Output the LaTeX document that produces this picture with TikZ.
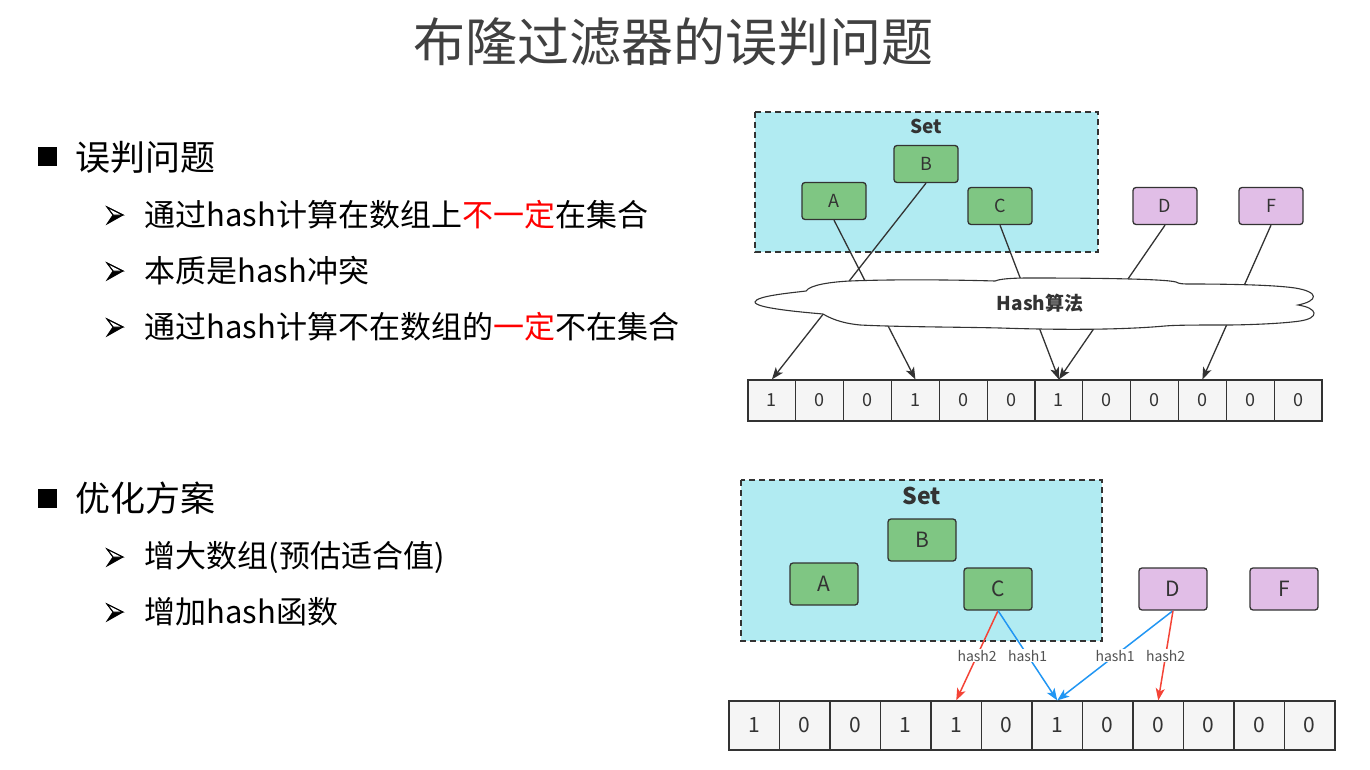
\documentclass[tikz,border=0pt]{standalone}
\usepackage{fontspec}
\setmainfont{Noto Sans CJK SC}
\usetikzlibrary{arrows.meta}
\definecolor{setfill}{HTML}{B1EBF2}
\definecolor{grn}{HTML}{7FC683}
\definecolor{pur}{HTML}{E1BEE7}
\definecolor{dk}{HTML}{333333}
\definecolor{cellfill}{HTML}{F5F5F5}
\definecolor{redarr}{HTML}{F44336}
\definecolor{bluearr}{HTML}{2196F3}
\definecolor{titlec}{HTML}{404040}
\tikzset{
  setbox/.style={draw=dk, line width=1.3pt, fill=setfill, dash pattern=on 6pt off 4pt},
  gbox/.style={draw=dk, line width=1.3pt, rounded corners=3pt, fill=grn, text=dk, inner sep=0pt},
  pbox/.style={draw=dk, line width=1.3pt, rounded corners=3pt, fill=pur, text=dk, inner sep=0pt},
  topbox/.style={minimum width=64pt, minimum height=37pt, font=\fontsize{18}{20}\selectfont},
  botbox/.style={minimum width=68pt, minimum height=42pt, font=\fontsize{21}{24}\selectfont},
  cellt/.style={draw=dk, line width=1.2pt, fill=cellfill, text=dk, minimum width=47.83pt, minimum height=41pt, inner sep=0pt, font=\fontsize{18}{20}\selectfont},
  cellb/.style={draw=dk, line width=1.2pt, fill=cellfill, text=dk, minimum width=50.5pt, minimum height=49pt, inner sep=0pt, font=\fontsize{21}{24}\selectfont},
  darr/.style={draw=dk, line width=1.3pt, -{Stealth[length=12pt,width=9pt,inset=3pt]}},
  rarr/.style={draw=redarr, line width=1.5pt, -{Stealth[length=12pt,width=9pt,inset=3pt]}},
  barr/.style={draw=bluearr, line width=1.5pt, -{Stealth[length=12pt,width=9pt,inset=3pt]}},
  lbl/.style={fill=white, inner sep=1pt, text=dk!85, font=\fontsize{14}{16}\selectfont},
  head/.style={anchor=west, font=\fontsize{35}{40}\selectfont},
  item/.style={anchor=west, font=\fontsize{31}{36}\selectfont},
  sq/.style={fill=black, minimum size=19pt, inner sep=0pt},
  cloudst/.style={draw=dk, line width=1.1pt, fill=white},
  pic arrowbullet/.style={},
}
\newcommand{\arrbullet}[2]{%
  \begin{scope}[shift={(#1,#2)}]
    \fill[black] (-8,9) -- (8,0) -- (-2,0) -- cycle;
    \draw[black, line width=0.9pt, line join=miter, fill=white] (-8,-8) -- (8,0) -- (-2,0) -- cycle;
    \draw[black, line width=0.9pt, line join=miter] (-8,-8) -- (8,0) -- (-8,9) -- (-2,0) -- cycle;
  \end{scope}}
\begin{document}
\begin{tikzpicture}[x=1pt,y=-1pt]
\useasboundingbox (0,0) rectangle (1370,770);
% title
\node[text=titlec, font=\fontsize{52}{58}\selectfont] (title) at (673,42) {布隆过滤器的误判问题};
% left text
\node[sq] (s1) at (47,157) {};
\node[head] (h1) at (72,157) {误判问题};
\arrbullet{115}{215}
\node[item] (i1) at (141,215) {通过hash计算在数组上\textcolor{red}{不一定}在集合};
\arrbullet{115}{271}
\node[item] (i2) at (141,271) {本质是hash冲突};
\arrbullet{115}{327}
\node[item] (i3) at (141,327) {通过hash计算不在数组的\textcolor{red}{一定}不在集合};
\node[sq] (s2) at (47,498) {};
\node[head] (h2) at (72,498) {优化方案};
\arrbullet{115}{557}
\node[item] (i4) at (141,557) {增大数组(预估适合值)};
\arrbullet{115}{612}
\node[item] (i5) at (141,612) {增加hash函数};

% ---------- top diagram ----------
\draw[setbox] (755,112) rectangle (1098,252);
\node[text=dk, font=\bfseries\fontsize{19}{22}\selectfont] (set1) at (926,126) {Set};
\node[gbox,topbox] (tB) at (926,164) {B};
\node[gbox,topbox] (tA) at (834,201) {A};
\node[gbox,topbox] (tC) at (1000,206) {C};
\node[pbox,topbox] (tD) at (1165,206) {D};
\node[pbox,topbox] (tF) at (1271,206) {F};
\foreach \v [count=\i] in {1,0,0,1,0,0,1,0,0,0,0,0}
  \node[cellt] (t\i) at ({748+47.83*(\i-0.5)},400.5) {\v};
\draw[darr] (tA.south) -- (t4.north);
\draw[darr] (tB.south) -- (t1.north);
\draw[darr] (tC.south) -- (t7.north);
\draw[darr] (tD.south) -- (t7.north);
\draw[darr] (tF.south) -- (t10.north);
\draw[cloudst] (755,302)
  .. controls (756,296) and (790,293) .. (806,291)
  .. controls (810,285) and (830,282) .. (850,281)
  .. controls (900,279) and (960,280) .. (995,281)
  .. controls (1000,279) and (1010,278) .. (1030,278)
  .. controls (1100,278) and (1165,279) .. (1176,282)
  .. controls (1179,284) and (1184,284) .. (1190,284)
  .. controls (1230,284) and (1275,285) .. (1295,288)
  .. controls (1320,292) and (1318,301) .. (1298,305)
  .. controls (1318,308) and (1320,318) .. (1300,321)
  .. controls (1280,324) and (1240,325) .. (1227,325)
  .. controls (1200,325) and (1175,325) .. (1165,326)
  .. controls (1120,330) and (1060,330) .. (1000,328)
  .. controls (960,327) and (900,327) .. (860,325)
  .. controls (840,323) and (830,318) .. (823,314)
  .. controls (800,312) and (755,308) .. (755,302) -- cycle;
\node[text=dk, font=\bfseries\fontsize{19}{22}\selectfont] (hash) at (1040,303) {Hash算法};

% ---------- bottom diagram ----------
\draw[setbox] (741,480) rectangle (1102,641);
\node[text=dk, font=\bfseries\fontsize{23}{26}\selectfont] (set2) at (922,496) {Set};
\node[gbox,botbox] (bB) at (922,540) {B};
\node[gbox,botbox] (bA) at (824,584) {A};
\node[gbox,botbox] (bC) at (998,589) {C};
\node[pbox,botbox] (bD) at (1173,589) {D};
\node[pbox,botbox] (bF) at (1284,589) {F};
\foreach \v [count=\i] in {1,0,0,1,1,0,1,0,0,0,0,0}
  \node[cellb] (c\i) at ({729+50.5*(\i-0.5)},725.5) {\v};
\draw[rarr] (bC.south) -- node[lbl, pos=0.5] {hash2} (c5.north);
\draw[barr] (bC.south) -- node[lbl, pos=0.5] {hash1} (c7.north);
\draw[barr] (bD.south) -- node[lbl, pos=0.5] {hash1} (c7.north);
\draw[rarr] (bD.south) -- node[lbl, pos=0.5] {hash2} (c9.north);
\end{tikzpicture}
\end{document}
